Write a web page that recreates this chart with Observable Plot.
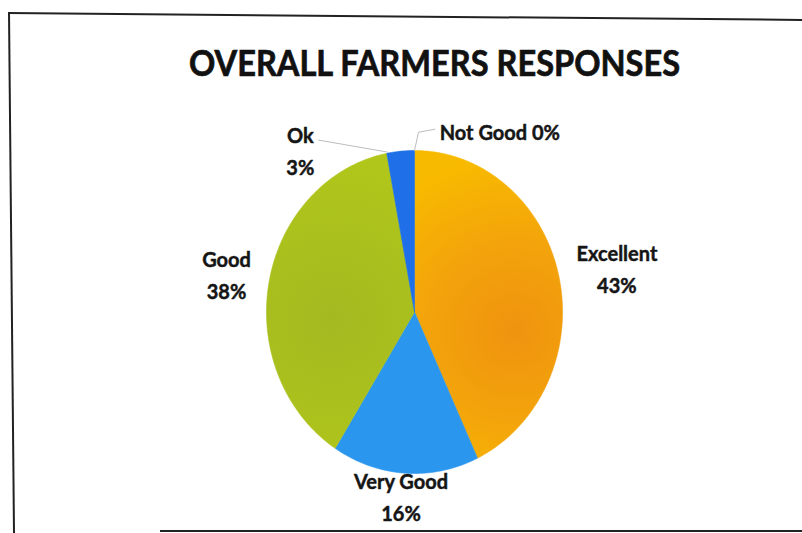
<!DOCTYPE html>
<html><head><meta charset="utf-8">
<script src="https://cdn.jsdelivr.net/npm/d3@7"></script>
<script src="https://cdn.jsdelivr.net/npm/@observablehq/plot@0.6"></script>
<style>
body{margin:0;background:#fff;}
#wrap{position:relative;width:802px;height:533px;overflow:hidden;background:#fff;font-family:Lato,sans-serif;}
#frame{position:absolute;left:8px;top:12px;width:830px;height:560px;border-left:2px solid #222;border-top:2px solid #222;transform-origin:0 0;transform:skew(0.55deg,0.5deg);}
#bottom{position:absolute;left:160px;top:530px;width:660px;height:0;border-top:2px solid #222;}
#title{position:absolute;top:44px;left:189px;font:700 36px Lato;line-height:1;white-space:nowrap;color:#111;transform-origin:0 0;margin:0;-webkit-text-stroke:0.7px #111;}
#chart{position:absolute;left:0;top:100px;}
</style></head><body>
<div id="wrap"><div id="frame"></div><div id="bottom"></div><h1 id="title">OVERALL FARMERS RESPONSES</h1><div id="chart"></div></div>
<script>
// ---- data ----
const categories = ["Excellent", "Very Good", "Good", "Ok", "Not Good"];
const percents = [43, 16, 38, 3, 0];
const colors = ["url(#gExcellent)", "#2B96EE", "url(#gGood)", "#1F70E8", "#7F7F7F"];

// ---- layout ----
const W = 802, H = 433, mL = 266, mR = 240, mT = 50, mB = 60;
const rx = (W - mL - mR) / 2, ry = (H - mT - mB) / 2;
const fontSize = 20;

// title fit
const titleEl = document.getElementById("title");
const tw = titleEl.getBoundingClientRect().width;
titleEl.style.transform = `scaleX(${491 / tw})`;

const ctx = document.createElement("canvas").getContext("2d");
ctx.font = `700 ${fontSize}px Lato`;
const measure = s => ctx.measureText(s).width;

// ---- slices ----
const total = d3.sum(percents);
let acc = 0;
const slices = categories.map((name, i) => {
  const a0 = acc / total * 2 * Math.PI; acc += percents[i];
  const a1 = acc / total * 2 * Math.PI;
  return {name, value: percents[i], a0, a1, mid: (a0 + a1) / 2};
});

const polyPts = slices.filter(s => s.value > 0).flatMap(s => {
  const n = Math.max(2, Math.ceil((s.a1 - s.a0) / (Math.PI / 180)));
  const pts = [{name: s.name, x: 0, y: 0}];
  for (let k = 0; k <= n; k++) {
    const a = s.a0 + (s.a1 - s.a0) * k / n;
    pts.push({name: s.name, x: Math.sin(a), y: Math.cos(a)});
  }
  pts.push({name: s.name, x: 0, y: 0});
  return pts;
});

// ---- labels (outside end; small slices as spread callouts) ----
const gapX = 19, gapY = 1, halfBlock = 25, lift = 4;
const spread = [-32, 27].map(d => d * Math.PI / 180);
let smallIdx = 0;
const labels = [], leaders = [];
slices.forEach(s => {
  const text = s.value > 0 ? `${s.name}\n${s.value}%` : `${s.name} ${s.value}%`;
  const hw = d3.max(text.split("\n"), measure) / 2;
  if (s.value >= 5) {
    const sx = Math.sin(s.mid), cy = Math.cos(s.mid);
    labels.push({text,
      x: sx + sx * (gapX + hw) / rx,
      y: cy + (cy * (gapY + halfBlock) + lift) / ry});
  } else {
    const a = s.mid + spread[smallIdx++];
    const r = 1.27;
    const lx = Math.sin(a) * r, ly = Math.cos(a) * r;
    labels.push({text, x: lx, y: ly});
    const ex = Math.sin(s.mid), ey = Math.cos(s.mid);
    const left = lx < ex;
    const lines = text.split("\n").length;
    const ay = ly + (lines > 1 ? 9 : 0) / ry;
    const ax = lx + (left ? (hw + 4) : -(hw + 5)) / rx;
    if (left) {
      leaders.push({name: s.name, x: ex - 0.09, y: ey - 0.005}, {name: s.name, x: ax, y: ay});
    } else {
      leaders.push({name: s.name, x: ex, y: ey},
                   {name: s.name, x: ex + 4 / rx, y: ay - 3 / ry},
                   {name: s.name, x: ax, y: ay});
    }
  }
});

const plot = Plot.plot({
  width: W, height: H,
  marginLeft: mL, marginRight: mR, marginTop: mT, marginBottom: mB,
  x: {domain: [-1, 1], axis: null},
  y: {domain: [-1, 1], axis: null},
  color: {domain: categories, range: colors},
  style: {background: "transparent", overflow: "visible"},
  marks: [
    Plot.line(polyPts, {x: "x", y: "y", z: "name", fill: "name", stroke: "name", strokeWidth: 0.6, curve: "linear"}),
    Plot.line(leaders, {x: "x", y: "y", z: "name", stroke: "#BDBDBD", strokeWidth: 1}),
    Plot.text(labels, {x: "x", y: "y", text: "text", fontFamily: "Lato", fontWeight: 700, fontSize,
      lineHeight: 1.6, fill: "#151515", stroke: "#151515", strokeWidth: 0.45,
      textAnchor: "middle", lineAnchor: "middle"})
  ]
});

// gradients placed via the plot's own scales
const X = plot.scale("x"), Y = plot.scale("y");
const ns = "http://www.w3.org/2000/svg";
const defs = document.createElementNS(ns, "defs");
function radial(id, cxD, cyD, r, stops) {
  const g = document.createElementNS(ns, "radialGradient");
  g.setAttribute("id", id);
  g.setAttribute("gradientUnits", "userSpaceOnUse");
  g.setAttribute("cx", X.apply(cxD)); g.setAttribute("cy", Y.apply(cyD)); g.setAttribute("r", r);
  stops.forEach(([o, c]) => {
    const st = document.createElementNS(ns, "stop");
    st.setAttribute("offset", o); st.setAttribute("stop-color", c); g.appendChild(st);
  });
  defs.appendChild(g);
}
radial("gExcellent", 0.68, -0.12, 175, [[0, "#EF930F"], [0.5, "#F3A30B"], [1, "#F8BA00"]]);
radial("gGood", -0.55, -0.05, 170, [[0, "#A3B920"], [1, "#B2C71A"]]);
plot.insertBefore(defs, plot.firstChild);

document.getElementById("chart").appendChild(plot);
</script>
</body></html>
